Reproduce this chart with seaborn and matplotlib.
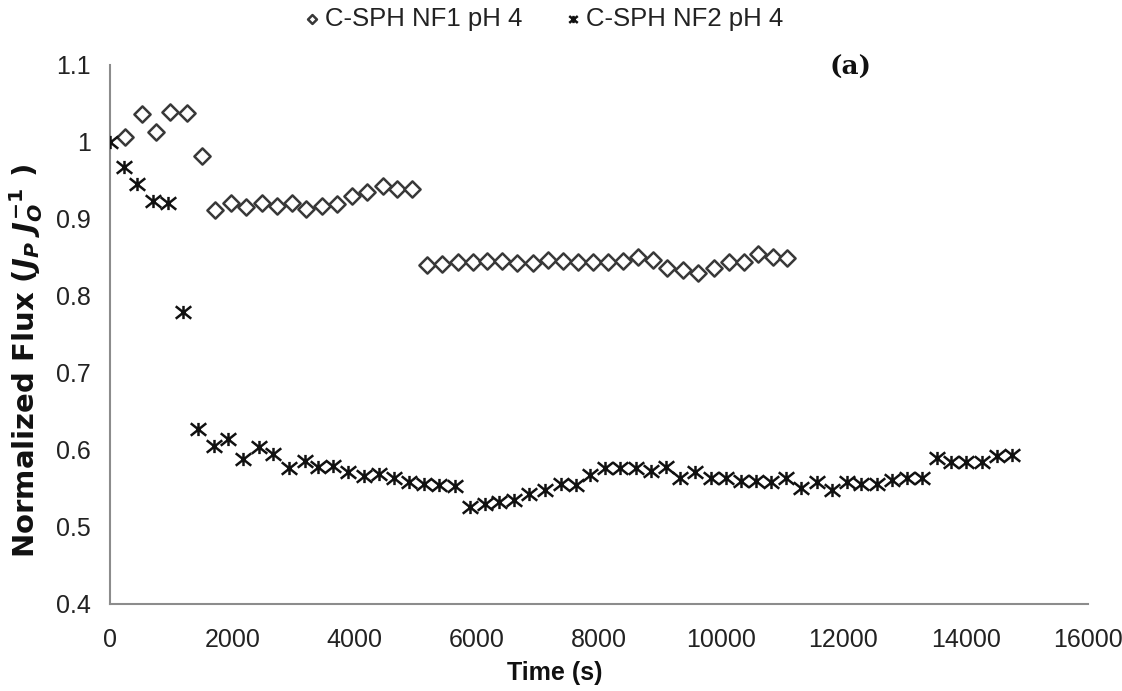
import numpy as np
import pandas as pd
import matplotlib
matplotlib.use("Agg")
import matplotlib.pyplot as plt
from matplotlib.path import Path
import seaborn as sns

# Time (s) and normalized flux for each membrane run
nf1_time = [245, 518, 752, 982, 1254, 1500, 1718, 1975, 2225, 2483,
            2738, 2977, 3214, 3463, 3708, 3959, 4212, 4461, 4695, 4940,
            5180, 5426, 5688, 5943, 6162, 6418, 6663, 6915, 7170, 7416,
            7661, 7897, 8152, 8397, 8643, 8888, 9107, 9369, 9624, 9881,
            10131, 10376, 10605, 10851, 11070]
nf1_flux = [1.007, 1.036, 1.013, 1.039, 1.037, 0.982, 0.911, 0.921, 0.915, 0.921,
            0.917, 0.921, 0.913, 0.917, 0.919, 0.930, 0.935, 0.943, 0.939, 0.939,
            0.840, 0.842, 0.844, 0.844, 0.846, 0.846, 0.843, 0.843, 0.847, 0.846,
            0.844, 0.844, 0.844, 0.846, 0.851, 0.847, 0.836, 0.834, 0.830, 0.836,
            0.844, 0.844, 0.855, 0.851, 0.849]

nf2_time = [0, 229, 447, 709, 954, 1199, 1448, 1702, 1939, 2181,
            2438, 2672, 2934, 3190, 3408, 3653, 3898, 4155, 4406, 4651,
            4896, 5137, 5391, 5645, 5890, 6135, 6364, 6610, 6860, 7117,
            7374, 7620, 7853, 8098, 8344, 8601, 8846, 9091, 9326, 9571,
            9828, 10078, 10328, 10568, 10814, 11055, 11300, 11562, 11807, 12052,
            12287, 12544, 12789, 13034, 13279, 13525, 13755, 14005, 14262, 14507,
            14752]
nf2_flux = [1.000, 0.967, 0.945, 0.923, 0.921, 0.779, 0.627, 0.605, 0.614, 0.588,
            0.604, 0.595, 0.576, 0.585, 0.578, 0.579, 0.571, 0.566, 0.569, 0.563,
            0.559, 0.556, 0.555, 0.553, 0.526, 0.530, 0.533, 0.535, 0.543, 0.548,
            0.556, 0.555, 0.567, 0.576, 0.576, 0.576, 0.573, 0.578, 0.564, 0.571,
            0.564, 0.563, 0.560, 0.560, 0.559, 0.564, 0.551, 0.559, 0.548, 0.558,
            0.556, 0.556, 0.561, 0.563, 0.563, 0.590, 0.584, 0.584, 0.584, 0.592,
            0.594]

series_labels = ["C-SPH NF1 pH 4", "C-SPH NF2 pH 4"]
x_ticks = [0, 2000, 4000, 6000, 8000, 10000, 12000, 14000, 16000]
y_ticks = [0.4, 0.5, 0.6, 0.7, 0.8, 0.9, 1.0, 1.1]
y_tick_labels = ["0.4", "0.5", "0.6", "0.7", "0.8", "0.9", "1", "1.1"]

df1 = pd.DataFrame({"Time": nf1_time, "Flux": nf1_flux})
df2 = pd.DataFrame({"Time": nf2_time, "Flux": nf2_flux})

sns.set_theme(style="white")
plt.rcParams["font.family"] = ["Liberation Sans", "DejaVu Sans"]
plt.rcParams["mathtext.fontset"] = "custom"
plt.rcParams["mathtext.rm"] = "DejaVu Sans:bold"
plt.rcParams["mathtext.it"] = "DejaVu Sans:bold:italic"
plt.rcParams["mathtext.bf"] = "DejaVu Sans:bold"

# Asterisk-style marker: an X crossed by a short vertical stroke
star_path = Path(
    [(-1.0, -0.8), (1.0, 0.8), (-1.0, 0.8), (1.0, -0.8), (0.0, -0.85), (0.0, 0.85)],
    [Path.MOVETO, Path.LINETO, Path.MOVETO, Path.LINETO, Path.MOVETO, Path.LINETO],
)

fig = plt.figure(figsize=(11.22, 6.91), dpi=100)
ax = fig.add_axes([0.098, 0.126, 0.8717, 0.780])

sns.scatterplot(data=df1, x="Time", y="Flux", ax=ax, marker="D", s=68,
                facecolor="white", edgecolor="#383838", linewidth=1.8,
                label=series_labels[0], zorder=3)
sns.scatterplot(data=df2, x="Time", y="Flux", ax=ax, marker=star_path, s=125,
                color="black", edgecolor="#111111", linewidth=1.8,
                label=series_labels[1], zorder=3)

ax.set_xlim(0, 16000)
ax.set_ylim(0.4, 1.1)
ax.set_xticks(x_ticks)
ax.set_xticklabels([str(t) for t in x_ticks])
ax.set_yticks(y_ticks)
ax.set_yticklabels(y_tick_labels)
ax.tick_params(axis="both", length=0, labelsize=18, colors="#222222")
ax.tick_params(axis="x", pad=17)
ax.tick_params(axis="y", pad=14)

for side in ["top", "right"]:
    ax.spines[side].set_visible(False)
for side in ["left", "bottom"]:
    ax.spines[side].set_color("#8c8c8c")
    ax.spines[side].set_linewidth(1.5)

ax.set_xlabel("Time (s)", fontsize=18, fontweight="bold", color="#111111")
ax.set_ylabel(r"Normalized Flux ($J_P\ J_O^{-1}$ )", fontsize=21,
              fontweight="bold", family=["DejaVu Sans"], color="#111111")
ax.xaxis.set_label_coords(0.455, -0.105)
ax.yaxis.set_label_coords(-0.066, 0.45)

leg = ax.legend(loc="upper center", bbox_to_anchor=(0.484, 1.012),
                bbox_transform=fig.transFigure, ncol=2, frameon=False,
                fontsize=18.5, markerscale=0.55, handlelength=0.7,
                handletextpad=0.15, columnspacing=1.6, borderaxespad=0.2)
for txt in leg.get_texts():
    txt.set_color("#222222")

fig.text(0.758, 0.903, "(a)", fontsize=19, fontweight="bold",
         family=["DejaVu Serif"], ha="center", va="center", color="#111111")

fig.savefig("out.png", dpi=100)
